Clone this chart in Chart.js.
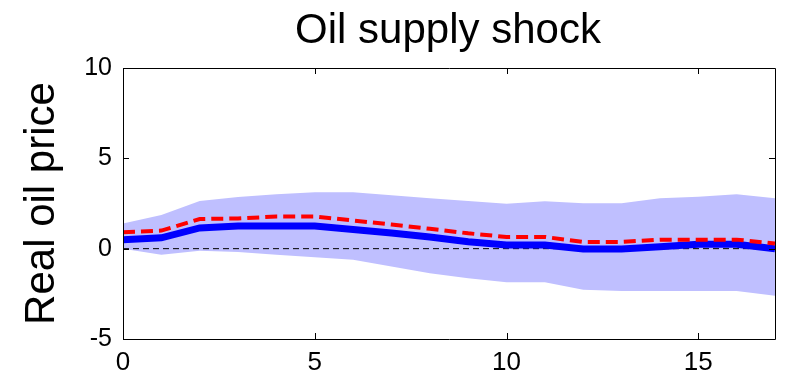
<!DOCTYPE html>
<html>
<head>
<meta charset="utf-8">
<script src="https://cdn.jsdelivr.net/npm/chart.js@4.4.1/dist/chart.umd.min.js"></script>
<style>
  html, body { margin: 0; padding: 0; background: #fff; }
  #wrap { width: 785px; height: 378px; }
</style>
</head>
<body>
<div id="wrap"><canvas id="c" width="785" height="378"></canvas></div>
<script>
// Impulse response horizons (quarters)
const horizons = [0,1,2,3,4,5,6,7,8,9,10,11,12,13,14,15,16,17];
// Posterior band (upper / lower)
const bandUpper = [1.39,1.86,2.64,2.86,3.01,3.12,3.12,2.95,2.79,2.64,2.49,2.62,2.51,2.51,2.79,2.88,3.01,2.79];
const bandLower = [0.0,-0.33,-0.11,-0.19,-0.33,-0.48,-0.61,-0.99,-1.36,-1.64,-1.86,-1.86,-2.27,-2.34,-2.34,-2.34,-2.34,-2.6];
// Median response (solid blue) and alternative estimate (dashed red)
const medianResp = [0.5,0.6,1.15,1.25,1.25,1.25,1.06,0.87,0.65,0.38,0.2,0.2,-0.02,-0.02,0.11,0.24,0.24,0.0];
const altResp = [0.91,1.0,1.64,1.67,1.78,1.78,1.56,1.34,1.1,0.85,0.65,0.65,0.37,0.37,0.5,0.5,0.5,0.28];
// Axis ticks
const xTicks = [0,5,10,15];
const yTicks = [-5,0,5,10];
const titleText = 'Oil supply shock';
const yTitleText = 'Real oil price';

const pts = arr => horizons.map((h, i) => ({x: h, y: arr[i]}));
const FONT = '"Liberation Sans", Arial, Helvetica, sans-serif';

// Box around the plot area with inward ticks, plus the centred title
const boxPlugin = {
  id: 'box',
  afterDatasetsDraw(chart) {
    const {ctx, chartArea: a, scales: {x, y}} = chart;
    ctx.save();
    ctx.strokeStyle = '#000';
    ctx.lineWidth = 1;
    ctx.beginPath();
    ctx.rect(Math.round(a.left) + 0.5, Math.round(a.top) + 0.5,
             Math.round(a.right - a.left), Math.round(a.bottom - a.top));
    const L = 6;
    xTicks.forEach(v => {
      const px = Math.round(x.getPixelForValue(v)) + 0.5;
      ctx.moveTo(px, a.bottom); ctx.lineTo(px, a.bottom - L);
      ctx.moveTo(px, a.top); ctx.lineTo(px, a.top + L);
    });
    yTicks.forEach(v => {
      const py = Math.round(y.getPixelForValue(v)) + 0.5;
      ctx.moveTo(a.left, py); ctx.lineTo(a.left + L, py);
      ctx.moveTo(a.right, py); ctx.lineTo(a.right - L, py);
    });
    ctx.stroke();
    ctx.fillStyle = '#000';
    ctx.font = '42px ' + FONT;
    ctx.textAlign = 'center';
    ctx.textBaseline = 'alphabetic';
    ctx.fillText(titleText, (a.left + a.right) / 2 - 1, 43);
    ctx.restore();
  }
};

new Chart(document.getElementById('c'), {
  type: 'line',
  data: {
    datasets: [
      { data: pts(altResp), borderColor: '#ff0000', borderWidth: 4, borderDash: [12, 6],
        pointRadius: 0, fill: false, order: 0 },
      { data: pts(medianResp), borderColor: '#0000ff', borderWidth: 7,
        pointRadius: 0, fill: false, order: 1 },
      { data: [{x: 0, y: 0}, {x: 17, y: 0}], borderColor: '#000', borderWidth: 1, borderDash: [6, 4],
        pointRadius: 0, fill: false, order: 2 },
      { data: pts(bandUpper), borderWidth: 0, borderColor: 'rgba(0,0,0,0)', backgroundColor: '#bfbfff',
        pointRadius: 0, fill: '+1', order: 3 },
      { data: pts(bandLower), borderWidth: 0, borderColor: 'rgba(0,0,0,0)',
        pointRadius: 0, fill: false, order: 4 }
    ]
  },
  options: {
    responsive: false,
    animation: false,
    events: [],
    layout: { padding: { left: 0, right: 10, top: 68, bottom: 0 } },
    plugins: { legend: { display: false }, tooltip: { enabled: false }, title: { display: false } },
    elements: { line: { tension: 0 } },
    scales: {
      x: {
        type: 'linear', min: 0, max: 17,
        grid: { display: false, drawTicks: false },
        border: { display: false },
        afterBuildTicks: s => { s.ticks = xTicks.map(v => ({value: v})); },
        afterFit: s => { s.height = 39; },
        ticks: { padding: 8, color: '#000', font: { family: FONT, size: 26 }, maxRotation: 0 }
      },
      y: {
        type: 'linear', min: -5, max: 10,
        grid: { display: false, drawTicks: false },
        border: { display: false },
        afterBuildTicks: s => { s.ticks = yTicks.map(v => ({value: v})); },
        afterFit: s => { s.width = 123; },
        ticks: { padding: 11, color: '#000', font: { family: FONT, size: 25 } },
        title: { display: true, text: yTitleText, color: '#000',
                 font: { family: FONT, size: 42 }, padding: { top: 17, bottom: 0 } }
      }
    }
  },
  plugins: [boxPlugin]
});
</script>
</body>
</html>
